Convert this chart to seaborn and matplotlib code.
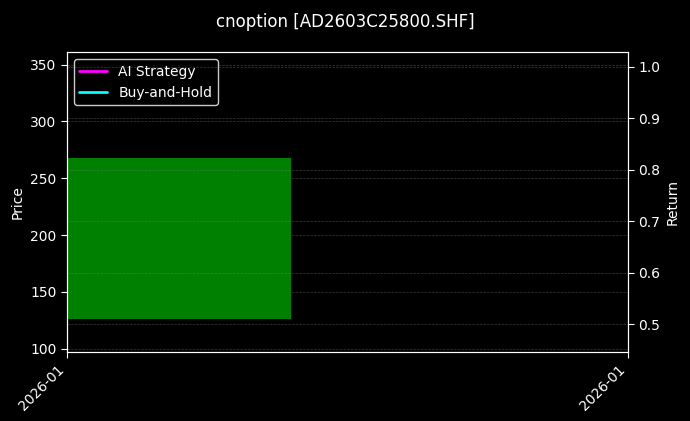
import pandas as pd
import matplotlib
matplotlib.use("Agg")
import matplotlib.pyplot as plt
import matplotlib.dates as mdates
import seaborn as sns

# single daily bar of the option
dates = pd.to_datetime(["2026-01-05"])
open_px = [126]
close_px = [268]

# return curves (only one observation each, so no visible line)
ai_return = [1.0]
bh_return = [0.4725]

TITLE = "cnoption [AD2603C25800.SHF]"


def main():
    plt.style.use("dark_background")
    sns.set_style("dark", {"axes.facecolor": "black", "figure.facecolor": "black"})
    plt.rcParams["font.family"] = ["DejaVu Sans"]

    fig, ax = plt.subplots(figsize=(6.9, 4.21), dpi=100)
    fig.patch.set_facecolor("black")
    ax.set_facecolor("black")

    # candle body
    x0 = mdates.date2num(dates)
    heights = [c - o for o, c in zip(open_px, close_px)]
    colors = ["green" if c >= o else "red" for o, c in zip(open_px, close_px)]
    ax.bar(x0, heights, bottom=open_px, width=0.4, align="edge", color=colors,
           edgecolor="none", linewidth=0, zorder=2)
    ax.set_xlim(x0[0], x0[0] + 1)
    ax.set_ylim(97, 361)
    ax.set_ylabel("Price", color="white")
    ax.grid(True, axis="y", linestyle="--", linewidth=0.5, color="gray", alpha=0.45)

    ax.set_xticks([x0[0], x0[0] + 1])
    ax.xaxis.set_major_formatter(mdates.DateFormatter("%Y-%m"))
    plt.setp(ax.get_xticklabels(), rotation=45, ha="right")

    ax2 = ax.twinx()
    df = pd.DataFrame({"date": list(x0) * 2,
                       "ret": ai_return + bh_return,
                       "series": ["AI Strategy"] * len(ai_return) + ["Buy-and-Hold"] * len(bh_return)})
    sns.lineplot(data=df, x="date", y="ret", hue="series",
                 palette={"AI Strategy": "magenta", "Buy-and-Hold": "cyan"},
                 linewidth=2, ax=ax2, legend=False)
    ax2.set_ylim(0.446, 1.028)
    ax2.set_xlim(x0[0], x0[0] + 1)
    ax2.set_ylabel("Return", color="white")
    ax2.set_xlabel("")
    ax2.grid(True, axis="y", linestyle="--", linewidth=0.5, color="gray", alpha=0.45)

    for a in (ax, ax2):
        for s in a.spines.values():
            s.set_color("white")
        a.tick_params(colors="white", left=a is ax, right=a is ax2, bottom=True, length=4)

    handles = [plt.Line2D([], [], color="magenta", lw=2),
               plt.Line2D([], [], color="cyan", lw=2)]
    leg = ax.legend(handles, ["AI Strategy", "Buy-and-Hold"], loc="upper left",
                    facecolor="black", edgecolor="white", framealpha=0.8)
    for t in leg.get_texts():
        t.set_color("white")
    ax.set_xlabel("")

    fig.suptitle(TITLE, color="white", fontsize=12, y=0.97)
    fig.subplots_adjust(left=0.097, right=0.91, top=0.876, bottom=0.164)
    fig.savefig("out.png", dpi=100, facecolor="black")


if __name__ == "__main__":
    main()
